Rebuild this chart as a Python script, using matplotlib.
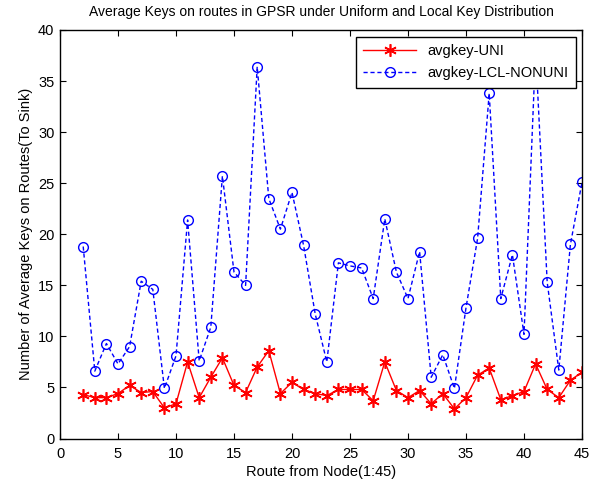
import matplotlib
matplotlib.use("Agg")
import matplotlib.pyplot as plt
import numpy as np

plt.rcParams['font.family'] = ['Liberation Sans', 'DejaVu Sans']

# --- data ---
route = list(range(2, 46))
avgkey_uni = [4.3, 4.0, 4.0, 4.4, 5.2, 4.5, 4.6, 3.0, 3.4, 7.5,
              4.0, 6.0, 7.9, 5.2, 4.5, 7.0, 8.6, 4.4, 5.5, 4.8,
              4.4, 4.2, 4.8, 4.8, 4.8, 3.7, 7.5, 4.7, 4.0, 4.7,
              3.4, 4.4, 2.9, 4.0, 6.2, 6.9, 3.8, 4.2, 4.6, 7.3,
              4.8, 4.0, 5.7, 6.5]
avgkey_lcl = [18.8, 6.6, 9.3, 7.3, 9.0, 15.4, 14.6, 4.9, 8.1, 21.4,
              7.6, 10.9, 25.7, 16.3, 15.0, 36.4, 23.5, 20.5, 24.1, 18.9,
              12.2, 7.5, 17.2, 16.9, 16.7, 13.7, 21.5, 16.3, 13.7, 18.3,
              6.0, 8.2, 4.9, 12.8, 19.6, 33.8, 13.7, 18.0, 10.2, 38.0,
              15.3, 6.7, 19.0, 25.1]

fig = plt.figure(figsize=(5.9, 4.86), dpi=100)
ax = fig.add_axes([60/590, 1-438.5/486, 522/590, 408.5/486])

# asterisk marker like matlab '*'
ax.plot(route, avgkey_uni, color='red', lw=1, marker=(6, 2, 0), ms=9, mew=1.2,
        mec='red', mfc='red', label='avgkey-UNI')
ax.plot(route, avgkey_lcl, color='blue', lw=1, ls=(0, (3, 2)), marker='o', ms=7,
        mec='blue', mfc='none', label='avgkey-LCL-NONUNI')

ax.set_xlim(0, 45)
ax.set_ylim(0, 40)
ax.set_xticks(np.arange(0, 46, 5))
ax.set_yticks(np.arange(0, 41, 5))
ax.tick_params(direction='in', length=4, labelsize=10.5, top=True, right=True)
ax.tick_params(axis='x', pad=6)
ax.tick_params(axis='y', pad=4)
for s in ax.spines.values():
    s.set_linewidth(1)

ax.set_title('Average Keys on routes in GPSR under Uniform and Local Key Distribution',
             fontsize=10, pad=10)
ax.set_xlabel('Route from Node(1:45)', fontsize=10.5, labelpad=3)
ax.set_ylabel('Number of Average Keys on Routes(To Sink)', fontsize=10.5, labelpad=4)

leg = ax.legend(loc='upper right', fontsize=10.5, fancybox=False, framealpha=1,
                edgecolor='black', handlelength=3.6, borderaxespad=0,
                labelspacing=0.55, borderpad=0.5,
                bbox_to_anchor=(0.9885, 0.983))
leg.get_frame().set_linewidth(1)
leg.set_zorder(10)

fig.savefig('out.png', dpi=100)
